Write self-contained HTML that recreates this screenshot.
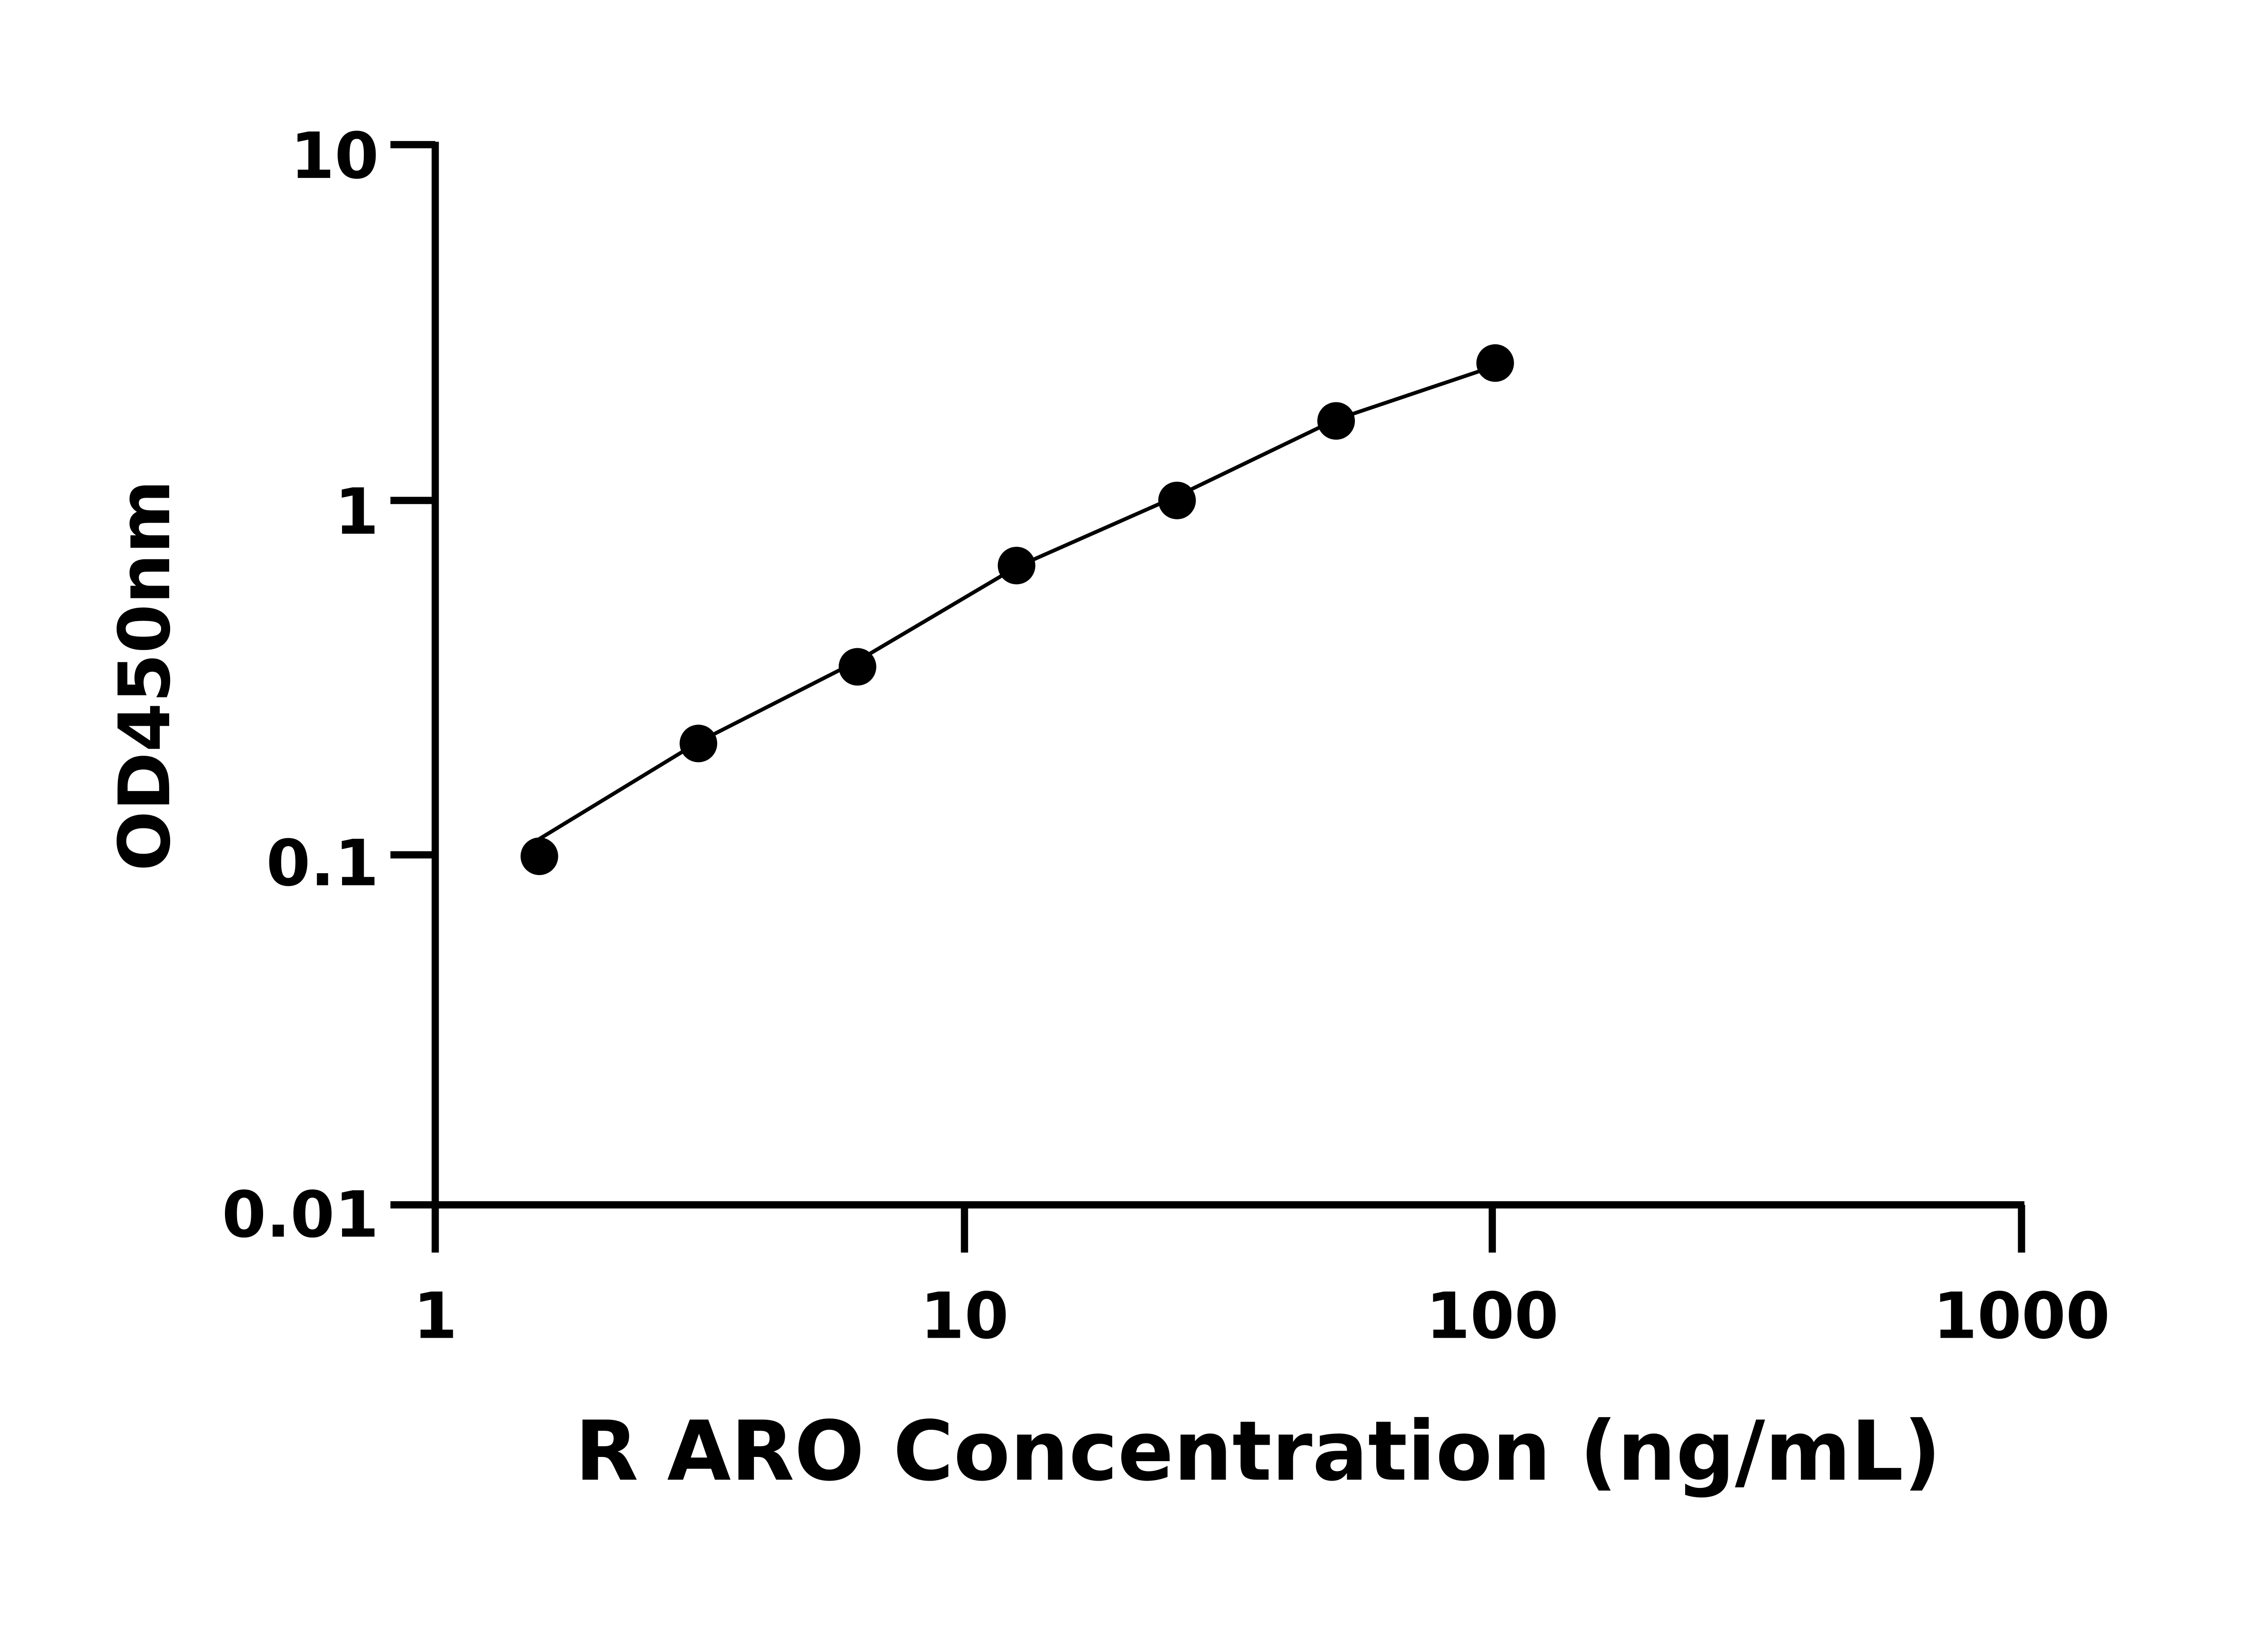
<!DOCTYPE html>
<html><head><meta charset="utf-8"><style>html,body{margin:0;padding:0;background:#fff}svg{display:block}</style></head>
<body>
<svg width="5142" height="3600" viewBox="0 0 1613 1129" preserveAspectRatio="none" xmlns="http://www.w3.org/2000/svg">
<rect width="1613" height="1129" fill="#fff"/>
<g stroke="#000" stroke-width="5" fill="none" stroke-linecap="butt">
<path d="M301 98 V835 M299 833 H1400"/>
<path d="M270 100 H301 M270 346 H301 M270 591 H301 M270 833 H301"/>
<path d="M301 833 V866 M667 833 V866 M1032 833 V866 M1398 833 V866"/>
</g>
<polyline fill="none" stroke="#000" stroke-width="2.6" stroke-linejoin="round" points="373,580 483,513 593,457 703,392 814,343 924,290 1034,253"/>
<g fill="#000">
<circle cx="373" cy="592" r="13"/><circle cx="483" cy="514" r="13"/><circle cx="593" cy="461" r="13"/>
<circle cx="703" cy="391" r="13"/><circle cx="814" cy="346" r="13"/><circle cx="924" cy="291" r="13"/><circle cx="1034" cy="251" r="13"/>
</g>
<g font-family="DejaVu Sans, Liberation Sans, sans-serif" font-weight="bold" font-size="44" fill="#000">
<g text-anchor="end">
<text x="262" y="123">10</text><text x="262" y="369">1</text><text x="262" y="612">0.1</text><text x="262" y="855">0.01</text>
</g>
<g text-anchor="middle">
<text x="301" y="925">1</text><text x="667" y="925">10</text><text x="1032" y="925">100</text><text x="1398" y="925">1000</text>
</g>
<text x="870" y="1023" text-anchor="middle" font-size="57">R ARO Concentration (ng/mL)</text>
<text transform="translate(117,467) rotate(-90)" text-anchor="middle" font-size="49">OD450nm</text>
</g>
</svg>
</body></html>
